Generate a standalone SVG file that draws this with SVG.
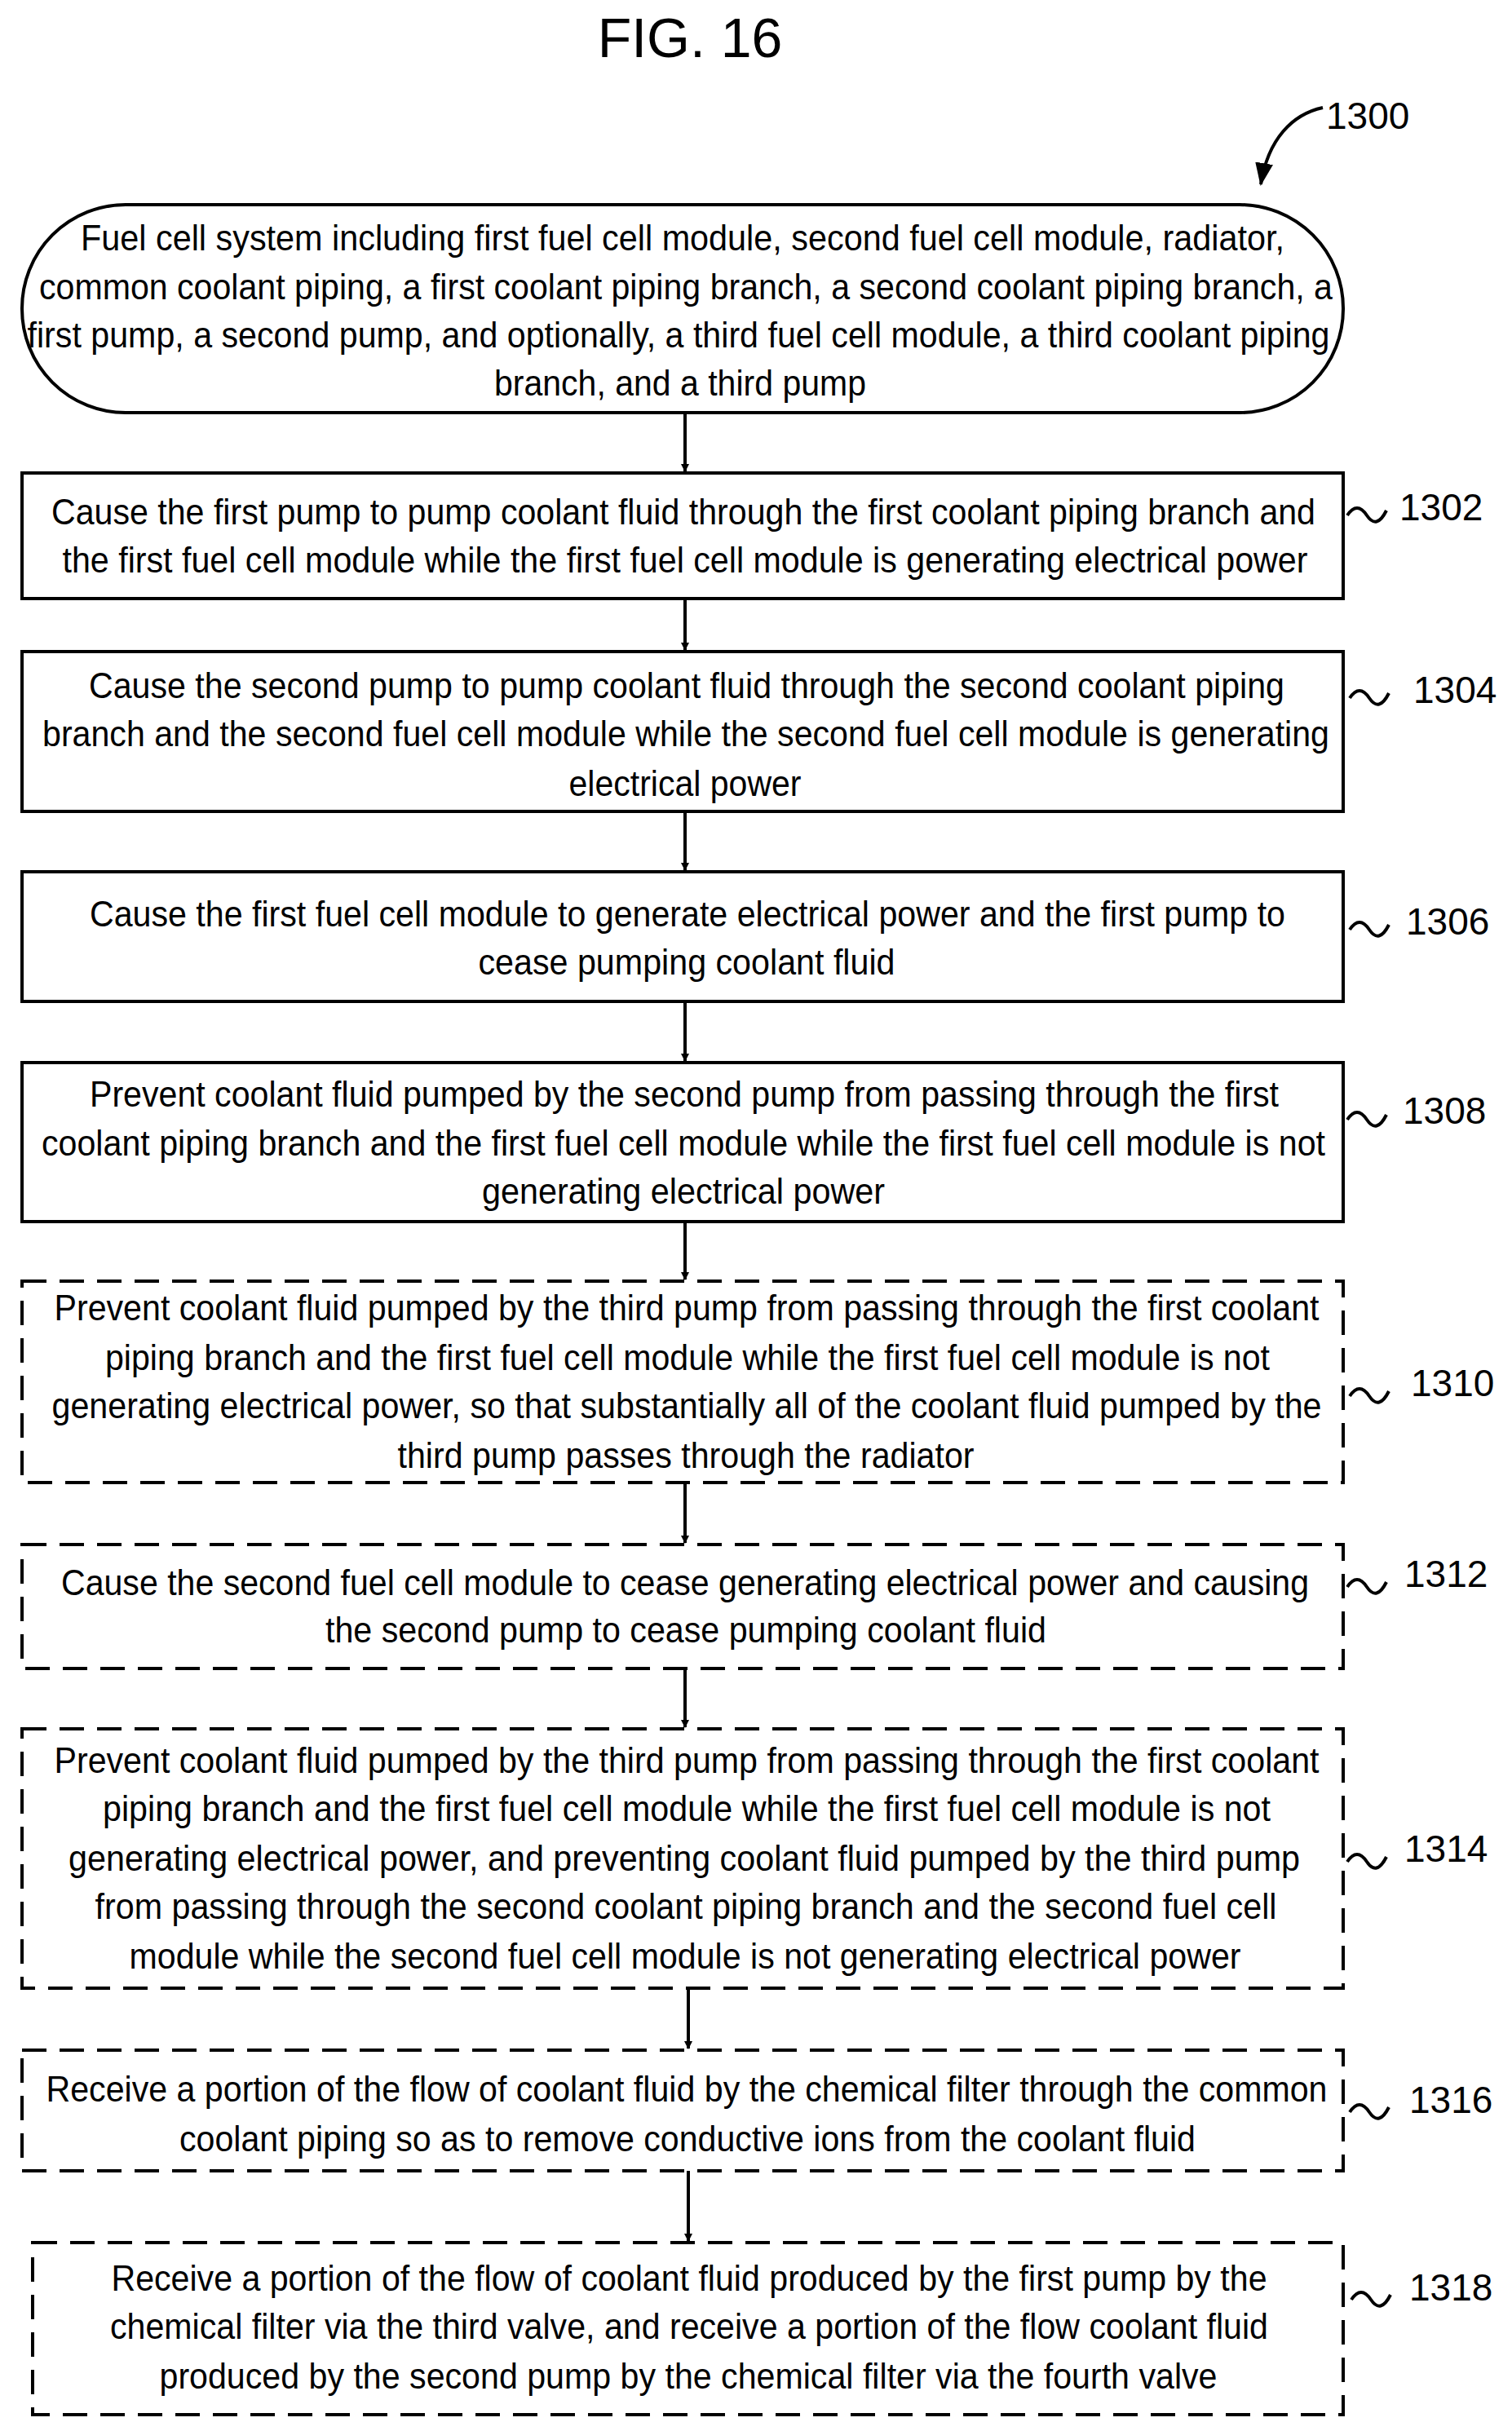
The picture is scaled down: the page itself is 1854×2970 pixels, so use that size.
<svg xmlns="http://www.w3.org/2000/svg" width="1854" height="2970" viewBox="0 0 1854 2970">
<style>
text{font-family:"Liberation Sans",Arial,sans-serif;fill:#000}
.t{font-size:44px;text-anchor:middle}
.l{font-size:46px}
.b{fill:#fff;stroke:#000;stroke-width:4}
.d{fill:#fff;stroke:#000;stroke-width:4;stroke-dasharray:30 16}
.c{fill:none;stroke:#000;stroke-width:4}
</style>
<defs><marker id="a" markerWidth="10" markerHeight="10" refX="9" refY="5" orient="auto" markerUnits="userSpaceOnUse" viewBox="0 0 10 10"><path d="M0,0L10,5L0,10z"/></marker>
<marker id="h" markerWidth="28" markerHeight="28" refX="26" refY="14" orient="auto" markerUnits="userSpaceOnUse" viewBox="0 0 28 28"><path d="M0,3L28,14L0,25z"/></marker></defs>
<rect width="1854" height="2970" fill="#fff"/>
<text x="846" y="70" style="font-size:68px;text-anchor:middle">FIG. 16</text>
<text class="l" x="1626" y="158">1300</text>
<path class="c" d="M1622,132 C1585,140 1555,170 1546,226" marker-end="url(#h)"/>
<g id="n1300"><rect class="b" x="27" y="251" width="1620" height="255" rx="127"/>
<text class="t"><tspan x="837" y="307" textLength="1476" lengthAdjust="spacingAndGlyphs">Fuel cell system including first fuel cell module, second fuel cell module, radiator,</tspan><tspan x="841" y="367" textLength="1586" lengthAdjust="spacingAndGlyphs">common coolant piping, a first coolant piping branch, a second coolant piping branch, a</tspan><tspan x="832" y="426" textLength="1597" lengthAdjust="spacingAndGlyphs">first pump, a second pump, and optionally, a third fuel cell module, a third coolant piping</tspan><tspan x="834" y="485" textLength="456" lengthAdjust="spacingAndGlyphs">branch, and a third pump</tspan></text></g>
<g id="n1302"><rect class="b" x="27" y="580" width="1620" height="154"/>
<text class="t"><tspan x="838" y="643" textLength="1550" lengthAdjust="spacingAndGlyphs">Cause the first pump to pump coolant fluid through the first coolant piping branch and</tspan><tspan x="840" y="702" textLength="1527" lengthAdjust="spacingAndGlyphs">the first fuel cell module while the first fuel cell module is generating electrical power</tspan></text>
<path class="c" d="M1652,632 q12,-18 24,0 t24,-6"/><text class="l" x="1716" y="638">1302</text></g>
<g id="n1304"><rect class="b" x="27" y="799" width="1620" height="196"/>
<text class="t"><tspan x="842" y="856" textLength="1466" lengthAdjust="spacingAndGlyphs">Cause the second pump to pump coolant fluid through the second coolant piping</tspan><tspan x="841" y="915" textLength="1578" lengthAdjust="spacingAndGlyphs">branch and the second fuel cell module while the second fuel cell module is generating</tspan><tspan x="840" y="976" textLength="285" lengthAdjust="spacingAndGlyphs">electrical power</tspan></text>
<path class="c" d="M1655,856 q12,-18 24,0 t24,-6"/><text class="l" x="1733" y="862">1304</text></g>
<g id="n1306"><rect class="b" x="27" y="1069" width="1620" height="159"/>
<text class="t"><tspan x="843" y="1136" textLength="1466" lengthAdjust="spacingAndGlyphs">Cause the first fuel cell module to generate electrical power and the first pump to</tspan><tspan x="842" y="1195" textLength="511" lengthAdjust="spacingAndGlyphs">cease pumping coolant fluid</tspan></text>
<path class="c" d="M1655,1140 q12,-18 24,0 t24,-6"/><text class="l" x="1724" y="1146">1306</text></g>
<g id="n1308"><rect class="b" x="27" y="1303" width="1620" height="195"/>
<text class="t"><tspan x="839" y="1357" textLength="1458" lengthAdjust="spacingAndGlyphs">Prevent coolant fluid pumped by the second pump from passing through the first</tspan><tspan x="838" y="1417" textLength="1574" lengthAdjust="spacingAndGlyphs">coolant piping branch and the first fuel cell module while the first fuel cell module is not</tspan><tspan x="838" y="1476" textLength="494" lengthAdjust="spacingAndGlyphs">generating electrical power</tspan></text>
<path class="c" d="M1652,1373 q12,-18 24,0 t24,-6"/><text class="l" x="1720" y="1378">1308</text></g>
<g id="n1310"><rect class="d" x="27" y="1571" width="1620" height="247"/>
<text class="t"><tspan x="842" y="1619" textLength="1551" lengthAdjust="spacingAndGlyphs">Prevent coolant fluid pumped by the third pump from passing through the first coolant</tspan><tspan x="843" y="1680" textLength="1428" lengthAdjust="spacingAndGlyphs">piping branch and the first fuel cell module while the first fuel cell module is not</tspan><tspan x="842" y="1739" textLength="1557" lengthAdjust="spacingAndGlyphs">generating electrical power, so that substantially all of the coolant fluid pumped by the</tspan><tspan x="841" y="1800" textLength="707" lengthAdjust="spacingAndGlyphs">third pump passes through the radiator</tspan></text>
<path class="c" d="M1655,1712 q12,-18 24,0 t24,-6"/><text class="l" x="1730" y="1712">1310</text></g>
<g id="n1312"><rect class="d" x="27" y="1894" width="1620" height="152"/>
<text class="t"><tspan x="840" y="1956" textLength="1530" lengthAdjust="spacingAndGlyphs">Cause the second fuel cell module to cease generating electrical power and causing</tspan><tspan x="841" y="2014" textLength="884" lengthAdjust="spacingAndGlyphs">the second pump to cease pumping coolant fluid</tspan></text>
<path class="c" d="M1652,1946 q12,-18 24,0 t24,-6"/><text class="l" x="1722" y="1946">1312</text></g>
<g id="n1314"><rect class="d" x="27" y="2120" width="1620" height="318"/>
<text class="t"><tspan x="842" y="2174" textLength="1551" lengthAdjust="spacingAndGlyphs">Prevent coolant fluid pumped by the third pump from passing through the first coolant</tspan><tspan x="842" y="2233" textLength="1432" lengthAdjust="spacingAndGlyphs">piping branch and the first fuel cell module while the first fuel cell module is not</tspan><tspan x="839" y="2294" textLength="1510" lengthAdjust="spacingAndGlyphs">generating electrical power, and preventing coolant fluid pumped by the third pump</tspan><tspan x="841" y="2353" textLength="1449" lengthAdjust="spacingAndGlyphs">from passing through the second coolant piping branch and the second fuel cell</tspan><tspan x="840" y="2414" textLength="1363" lengthAdjust="spacingAndGlyphs">module while the second fuel cell module is not generating electrical power</tspan></text>
<path class="c" d="M1652,2283 q12,-18 24,0 t24,-6"/><text class="l" x="1722" y="2283">1314</text></g>
<g id="n1316"><rect class="d" x="27" y="2514" width="1620" height="148"/>
<text class="t"><tspan x="842" y="2577" textLength="1571" lengthAdjust="spacingAndGlyphs">Receive a portion of the flow of coolant fluid by the chemical filter through the common</tspan><tspan x="843" y="2638" textLength="1246" lengthAdjust="spacingAndGlyphs">coolant piping so as to remove conductive ions from the coolant fluid</tspan></text>
<path class="c" d="M1655,2590 q12,-18 24,0 t24,-6"/><text class="l" x="1728" y="2591">1316</text></g>
<g id="n1318"><rect class="d" x="40" y="2750" width="1607" height="211"/>
<text class="t"><tspan x="845" y="2809" textLength="1417" lengthAdjust="spacingAndGlyphs">Receive a portion of the flow of coolant fluid produced by the first pump by the</tspan><tspan x="845" y="2868" textLength="1420" lengthAdjust="spacingAndGlyphs">chemical filter via the third valve, and receive a portion of the flow coolant fluid</tspan><tspan x="844" y="2929" textLength="1297" lengthAdjust="spacingAndGlyphs">produced by the second pump by the chemical filter via the fourth valve</tspan></text>
<path class="c" d="M1657,2820 q12,-18 24,0 t24,-6"/><text class="l" x="1728" y="2821">1318</text></g>
<g id="connectors" stroke="#000" stroke-width="4">
<line x1="840" y1="506" x2="840" y2="578" marker-end="url(#a)"/>
<line x1="840" y1="734" x2="840" y2="797" marker-end="url(#a)"/>
<line x1="840" y1="995" x2="840" y2="1067" marker-end="url(#a)"/>
<line x1="840" y1="1228" x2="840" y2="1301" marker-end="url(#a)"/>
<line x1="840" y1="1498" x2="840" y2="1569" marker-end="url(#a)"/>
<line x1="840" y1="1818" x2="840" y2="1892" marker-end="url(#a)"/>
<line x1="840" y1="2046" x2="840" y2="2118" marker-end="url(#a)"/>
<line x1="844" y1="2438" x2="844" y2="2512" marker-end="url(#a)"/>
<line x1="844" y1="2662" x2="844" y2="2748" marker-end="url(#a)"/>
</g>
</svg>
